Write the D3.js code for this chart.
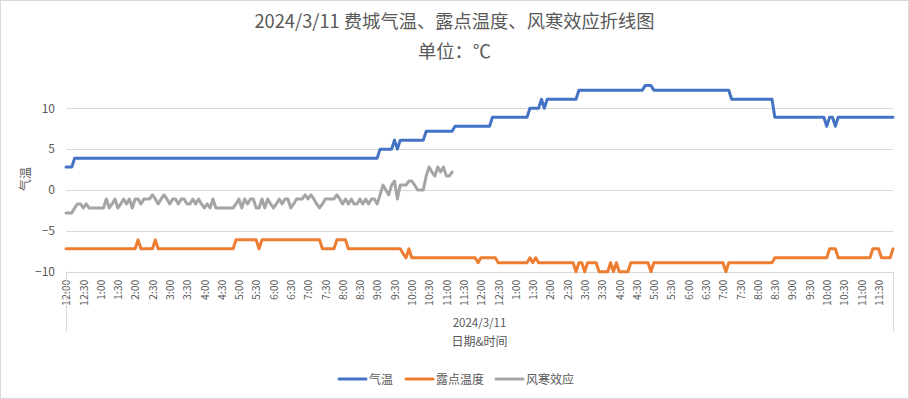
<!DOCTYPE html>
<html><head><meta charset="utf-8">
<script src="https://cdn.jsdelivr.net/npm/d3@7"></script>
<style>
body{margin:0;background:#fff;}
text{font-family:"Noto Sans CJK SC","Noto Sans",sans-serif;fill:#595959;}
</style></head>
<body><svg id="c" width="909" height="399"></svg>
<script>
// ---- data (5‑minute observations, 2024/3/11) ----
const tickLabels = ["12:00","12:30","1:00","1:30","2:00","2:30","3:00","3:30","4:00","4:30","5:00","5:30",
  "6:00","6:30","7:00","7:30","8:00","8:30","9:00","9:30","10:00","10:30","11:00","11:30",
  "12:00","12:30","1:00","1:30","2:00","2:30","3:00","3:30","4:00","4:30","5:00","5:30",
  "6:00","6:30","7:00","7:30","8:00","8:30","9:00","9:30","10:00","10:30","11:00","11:30"];
const dateLabel = "2024/3/11";
const seriesNames = ["气温","露点温度","风寒效应"];
const yTicks = [-10,-5,0,5,10];

const temperature = [
 2.8,2.8,2.8,3.9,3.9,3.9,3.9,3.9,3.9,3.9,3.9,3.9,
 3.9,3.9,3.9,3.9,3.9,3.9,3.9,3.9,3.9,3.9,3.9,3.9,
 3.9,3.9,3.9,3.9,3.9,3.9,3.9,3.9,3.9,3.9,3.9,3.9,
 3.9,3.9,3.9,3.9,3.9,3.9,3.9,3.9,3.9,3.9,3.9,3.9,
 3.9,3.9,3.9,3.9,3.9,3.9,3.9,3.9,3.9,3.9,3.9,3.9,
 3.9,3.9,3.9,3.9,3.9,3.9,3.9,3.9,3.9,3.9,3.9,3.9,
 3.9,3.9,3.9,3.9,3.9,3.9,3.9,3.9,3.9,3.9,3.9,3.9,
 3.9,3.9,3.9,3.9,3.9,3.9,3.9,3.9,3.9,3.9,3.9,3.9,
 3.9,3.9,3.9,3.9,3.9,3.9,3.9,3.9,3.9,3.9,3.9,3.9,
 3.9,5,5,5,5,5,6.1,5,6.1,6.1,6.1,6.1,
 6.1,6.1,6.1,6.1,6.1,7.2,7.2,7.2,7.2,7.2,7.2,7.2,
 7.2,7.2,7.2,7.8,7.8,7.8,7.8,7.8,7.8,7.8,7.8,7.8,
 7.8,7.8,7.8,7.8,8.9,8.9,8.9,8.9,8.9,8.9,8.9,8.9,
 8.9,8.9,8.9,8.9,8.9,10,10,10,10,11.1,10,11.1,
 11.1,11.1,11.1,11.1,11.1,11.1,11.1,11.1,11.1,11.1,12.2,12.2,
 12.2,12.2,12.2,12.2,12.2,12.2,12.2,12.2,12.2,12.2,12.2,12.2,
 12.2,12.2,12.2,12.2,12.2,12.2,12.2,12.2,12.2,12.8,12.8,12.8,
 12.2,12.2,12.2,12.2,12.2,12.2,12.2,12.2,12.2,12.2,12.2,12.2,
 12.2,12.2,12.2,12.2,12.2,12.2,12.2,12.2,12.2,12.2,12.2,12.2,
 12.2,12.2,12.2,11.1,11.1,11.1,11.1,11.1,11.1,11.1,11.1,11.1,
 11.1,11.1,11.1,11.1,11.1,11.1,8.9,8.9,8.9,8.9,8.9,8.9,
 8.9,8.9,8.9,8.9,8.9,8.9,8.9,8.9,8.9,8.9,8.9,8.9,
 7.8,8.9,8.9,7.8,8.9,8.9,8.9,8.9,8.9,8.9,8.9,8.9,
 8.9,8.9,8.9,8.9,8.9,8.9,8.9,8.9,8.9,8.9,8.9,8.9
];
const dewPoint = [
 -7.2,-7.2,-7.2,-7.2,-7.2,-7.2,-7.2,-7.2,-7.2,-7.2,-7.2,-7.2,
 -7.2,-7.2,-7.2,-7.2,-7.2,-7.2,-7.2,-7.2,-7.2,-7.2,-7.2,-7.2,
 -7.2,-6.1,-7.2,-7.2,-7.2,-7.2,-7.2,-6.1,-7.2,-7.2,-7.2,-7.2,
 -7.2,-7.2,-7.2,-7.2,-7.2,-7.2,-7.2,-7.2,-7.2,-7.2,-7.2,-7.2,
 -7.2,-7.2,-7.2,-7.2,-7.2,-7.2,-7.2,-7.2,-7.2,-7.2,-7.2,-6.1,
 -6.1,-6.1,-6.1,-6.1,-6.1,-6.1,-6.1,-7.2,-6.1,-6.1,-6.1,-6.1,
 -6.1,-6.1,-6.1,-6.1,-6.1,-6.1,-6.1,-6.1,-6.1,-6.1,-6.1,-6.1,
 -6.1,-6.1,-6.1,-6.1,-6.1,-7.2,-7.2,-7.2,-7.2,-7.2,-6.1,-6.1,
 -6.1,-6.1,-7.2,-7.2,-7.2,-7.2,-7.2,-7.2,-7.2,-7.2,-7.2,-7.2,
 -7.2,-7.2,-7.2,-7.2,-7.2,-7.2,-7.2,-7.2,-7.2,-7.8,-8.3,-7.2,
 -8.3,-8.3,-8.3,-8.3,-8.3,-8.3,-8.3,-8.3,-8.3,-8.3,-8.3,-8.3,
 -8.3,-8.3,-8.3,-8.3,-8.3,-8.3,-8.3,-8.3,-8.3,-8.3,-8.3,-8.9,
 -8.3,-8.3,-8.3,-8.3,-8.3,-8.3,-8.9,-8.9,-8.9,-8.9,-8.9,-8.9,
 -8.9,-8.9,-8.9,-8.9,-8.9,-8.3,-8.9,-8.3,-8.9,-8.9,-8.9,-8.9,
 -8.9,-8.9,-8.9,-8.9,-8.9,-8.9,-8.9,-8.9,-8.9,-10,-8.9,-8.9,
 -10,-8.9,-8.9,-8.9,-8.9,-10,-10,-10,-10,-8.9,-10,-8.9,
 -10,-10,-10,-10,-8.9,-8.9,-8.9,-8.9,-8.9,-8.9,-8.9,-10,
 -8.9,-8.9,-8.9,-8.9,-8.9,-8.9,-8.9,-8.9,-8.9,-8.9,-8.9,-8.9,
 -8.9,-8.9,-8.9,-8.9,-8.9,-8.9,-8.9,-8.9,-8.9,-8.9,-8.9,-8.9,
 -8.9,-10,-8.9,-8.9,-8.9,-8.9,-8.9,-8.9,-8.9,-8.9,-8.9,-8.9,
 -8.9,-8.9,-8.9,-8.9,-8.9,-8.9,-8.3,-8.3,-8.3,-8.3,-8.3,-8.3,
 -8.3,-8.3,-8.3,-8.3,-8.3,-8.3,-8.3,-8.3,-8.3,-8.3,-8.3,-8.3,
 -8.3,-7.2,-7.2,-7.2,-8.3,-8.3,-8.3,-8.3,-8.3,-8.3,-8.3,-8.3,
 -8.3,-8.3,-8.3,-8.3,-7.2,-7.2,-7.2,-8.3,-8.3,-8.3,-8.3,-7.2
];
const windChill = [
 -2.8,-2.8,-2.8,-2.2,-1.7,-1.7,-2.2,-1.7,-2.2,-2.2,-2.2,-2.2,
 -2.2,-2.2,-1.1,-2.2,-1.7,-1.1,-2.2,-1.7,-1.1,-1.7,-1.1,-2.2,
 -1.1,-1.1,-1.7,-1.1,-1.1,-1.1,-0.6,-1.1,-1.7,-1.1,-0.6,-1.1,
 -1.7,-1.1,-1.1,-1.7,-1.1,-1.1,-1.7,-1.7,-1.1,-1.7,-1.1,-1.7,
 -2.2,-1.7,-2.2,-1.1,-2.2,-2.2,-2.2,-2.2,-2.2,-2.2,-2.2,-1.7,
 -1.1,-2.2,-1.1,-1.7,-1.1,-1.1,-2.2,-2.2,-1.1,-2.2,-1.1,-1.7,
 -2.2,-1.7,-1.1,-1.7,-1.1,-1.1,-2.2,-1.7,-1.1,-1.1,-1.1,-0.6,
 -1.1,-0.6,-1.1,-1.7,-2.2,-1.7,-1.1,-1.1,-1.1,-1.1,-0.6,-1.1,
 -1.7,-1.1,-1.7,-1.1,-1.7,-1.7,-1.1,-1.7,-1.1,-1.7,-1.1,-1.1,
 -1.7,-0.6,0.6,0,-0.6,0.6,1.1,-1.1,0.6,0.6,0.6,1.1,
 1.1,0.6,0,0,0,1.7,2.8,2.2,1.7,2.8,2.2,2.8,
 1.7,1.7,2.2,null,null,null,null,null,null,null,null,null,
 null,null,null,null,null,null,null,null,null,null,null,null,
 null,null,null,null,null,null,null,null,null,null,null,null,
 null,null,null,null,null,null,null,null,null,null,null,null,
 null,null,null,null,null,null,null,null,null,null,null,null,
 null,null,null,null,null,null,null,null,null,null,null,null,
 null,null,null,null,null,null,null,null,null,null,null,null,
 null,null,null,null,null,null,null,null,null,null,null,null,
 null,null,null,null,null,null,null,null,null,null,null,null,
 null,null,null,null,null,null,null,null,null,null,null,null,
 null,null,null,null,null,null,null,null,null,null,null,null,
 null,null,null,null,null,null,null,null,null,null,null,null,
 null,null,null,null,null,null,null,null,null,null,null,null
];
const colors = ["#4472C4","#ED7D31","#A5A5A5"];
const stepsPerLabel = 6;

// ---- drawing ----
const svg = d3.select("#c");
const W = 909, H = 399;
const L = 66, R = 893, yTop = 108.3, yBot = 271.7;

svg.append("rect").attr("x",0.5).attr("y",0.5).attr("width",W-1).attr("height",H-1)
  .attr("fill","#fff").attr("stroke","#d9d9d9");

const idx = d3.range(temperature.length);
const x = d3.scalePoint().domain(idx).range([L, R]);
const y = d3.scaleLinear().domain([-10, 10]).range([yBot, yTop]);

// gridlines
svg.append("g").selectAll("line").data(yTicks).join("line")
  .attr("x1",L).attr("x2",R)
  .attr("y1",d=>Math.round(y(d))+0.5).attr("y2",d=>Math.round(y(d))+0.5)
  .attr("stroke","#d9d9d9").attr("stroke-width",1);

// y axis labels
const yAxis = d3.axisLeft(y).tickValues(yTicks).tickSize(0).tickPadding(0);
const gy = svg.append("g").attr("transform",`translate(55,0)`).call(yAxis);
gy.select(".domain").remove();
gy.selectAll("text").style("font-size","12px").attr("fill","#595959");

// x axis (category labels rotated)
const xTickIdx = idx.filter(i => i % stepsPerLabel === 0);
const xAxis = d3.axisBottom(x).tickValues(xTickIdx)
  .tickFormat(i => tickLabels[i / stepsPerLabel]).tickSize(0).tickPadding(0);
const gx = svg.append("g").attr("transform",`translate(0,${yBot})`).call(xAxis);
gx.select(".domain").remove();
gx.selectAll("text")
  .attr("transform","rotate(-90)")
  .attr("text-anchor","end")
  .attr("x",-8).attr("y",0).attr("dy","0.36em")
  .style("font-size","10.5px").attr("fill","#595959");

// multi-level category box lines
svg.append("line").attr("x1",L+0.5).attr("x2",L+0.5).attr("y1",yBot).attr("y2",332)
  .attr("stroke","#d9d9d9");
svg.append("line").attr("x1",R+0.5).attr("x2",R+0.5).attr("y1",yBot).attr("y2",332)
  .attr("stroke","#d9d9d9");
svg.append("text").attr("x",(L+R)/2).attr("y",327).attr("text-anchor","middle")
  .style("font-size","11.5px").text(dateLabel);

// axis titles
svg.append("text").attr("x",(L+R)/2).attr("y",346).attr("text-anchor","middle")
  .style("font-size","12px").text("日期&时间");
svg.append("text").attr("transform","translate(30,179) rotate(-90)").attr("text-anchor","middle")
  .style("font-size","12px").text("气温");

// title
svg.append("text").attr("x",W/2).attr("y",28).attr("text-anchor","middle")
  .style("font-size","18.3px").text("2024/3/11 费城气温、露点温度、风寒效应折线图");
svg.append("text").attr("x",W/2).attr("y",58).attr("text-anchor","middle")
  .style("font-size","18.3px").text("单位：℃");

// lines
const series = [temperature, dewPoint, windChill];
const line = d3.line().defined(d => d[1] !== null)
  .x(d => x(d[0])).y(d => y(d[1]));
series.forEach((s, k) => {
  svg.append("path").datum(s.map((v,i)=>[i,v]))
    .attr("d", line).attr("fill","none")
    .attr("stroke", colors[k]).attr("stroke-width",3)
    .attr("stroke-linejoin","round").attr("stroke-linecap","round");
});

// legend
const legendX = [339, 406, 496];
const lg = svg.append("g");
seriesNames.forEach((n,k) => {
  lg.append("line").attr("x1",legendX[k]).attr("x2",legendX[k]+27)
    .attr("y1",379).attr("y2",379).attr("stroke",colors[k]).attr("stroke-width",3)
    .attr("stroke-linecap","round");
  lg.append("text").attr("x",legendX[k]+30).attr("y",384)
    .style("font-size","12px").text(n);
});
</script></body></html>
